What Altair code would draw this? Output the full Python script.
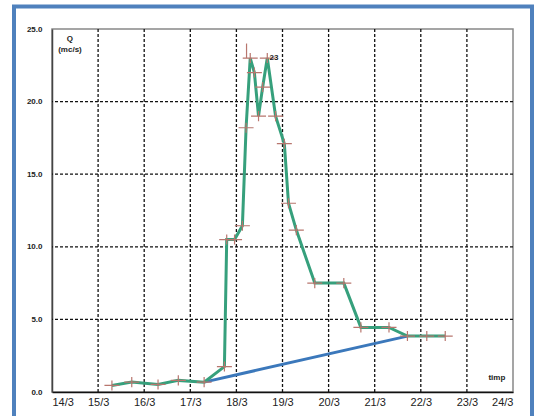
import altair as alt
import pandas as pd

# measured discharge (day of March, Q in mc/s)
day = [15.30, 15.73, 16.30, 16.74, 17.30, 17.74, 17.79, 17.96, 18.13, 18.21,
       18.30, 18.39, 18.48, 18.57, 18.67, 18.85, 19.04, 19.13, 19.30, 19.70,
       20.33, 20.70, 21.31, 21.71, 22.13, 22.53]
q = [0.45, 0.68, 0.52, 0.80, 0.68, 1.75, 10.5, 10.5, 11.45, 18.2,
     23.0, 22.0, 19.0, 21.0, 23.0, 19.0, 17.1, 13.0, 11.15, 7.5,
     7.5, 4.45, 4.45, 3.85, 3.85, 3.85]

# base flow separation line
base_day = [17.30, 21.71]
base_q = [0.68, 3.85]

# small spike above first peak
spike_day = [18.22]
spike_lo = [23.0]
spike_hi = [24.0]

x_ticks = [14, 15, 16, 17, 18, 19, 20, 21, 22, 23, 24]
y_ticks = [0, 5, 10, 15, 20, 25]
grid_days = [15, 16, 17, 18, 19, 20, 21, 22, 23]
grid_q = [5, 10, 15, 20]

label_text = ["Q", "(mc/s)", "timp"]
label_day = [14.39, 14.39, 23.65]
label_q = [24.3, 23.55, 0.95]

peak_text = ["23"]
peak_day = [18.72]
peak_q = [23.0]

FONT = "Liberation Sans"

df = pd.DataFrame({"day": day, "q": q})
base_df = pd.DataFrame({"day": base_day, "q": base_q})
spike_df = pd.DataFrame({"day": spike_day, "lo": spike_lo, "hi": spike_hi})
gx_df = pd.DataFrame({"day": grid_days})
gy_df = pd.DataFrame({"q": grid_q})
lab_df = pd.DataFrame({"day": label_day, "q": label_q, "text": label_text})
peak_df = pd.DataFrame({"day": peak_day, "q": peak_q, "text": peak_text})

xs = alt.Scale(domain=[14, 24], nice=False, zero=False)
ys = alt.Scale(domain=[0, 25], nice=False)

x_axis = alt.Axis(values=x_ticks, labelExpr="datum.value + '/3'", title=None, grid=False,
                  ticks=False, domainColor="#111", domainWidth=1.5, labelFontSize=11,
                  labelFont=FONT, labelColor="#222", labelPadding=4)
y_axis = alt.Axis(values=y_ticks, format=".1f", title=None, grid=False, ticks=False,
                  domainColor="#444", domainWidth=1.5, labelFontSize=8, labelFontWeight="bold",
                  labelFont=FONT, labelColor="#222", labelPadding=10)

gridx = alt.Chart(gx_df).mark_rule(color="#111", strokeDash=[3, 2], strokeWidth=1.3).encode(
    x=alt.X("day:Q", scale=xs, axis=x_axis))
gridy = alt.Chart(gy_df).mark_rule(color="#111", strokeDash=[3, 2], strokeWidth=1.3).encode(
    y=alt.Y("q:Q", scale=ys, axis=y_axis))

base = alt.Chart(base_df).mark_line(color="#3b78bb", strokeWidth=3).encode(
    x=alt.X("day:Q", scale=xs), y=alt.Y("q:Q", scale=ys))

green = alt.Chart(df).mark_line(color="#36a07c", strokeWidth=3).encode(
    x=alt.X("day:Q", scale=xs), y=alt.Y("q:Q", scale=ys))

crosses = alt.Chart(df).mark_point(
    shape="M-1,0H1M0,-0.67V0.67", size=225, filled=False, stroke="#b8766e", strokeWidth=1.2,
    opacity=1).encode(x=alt.X("day:Q", scale=xs), y=alt.Y("q:Q", scale=ys))

spike = alt.Chart(spike_df).mark_rule(color="#b8766e", strokeWidth=1.2).encode(
    x=alt.X("day:Q", scale=xs), y=alt.Y("lo:Q", scale=ys), y2="hi:Q")

labels = alt.Chart(lab_df).mark_text(font=FONT, fontSize=8, fontWeight="bold", color="#222",
                                     baseline="middle", align="center").encode(
    x=alt.X("day:Q", scale=xs), y=alt.Y("q:Q", scale=ys), text="text:N")

peak_label = alt.Chart(peak_df).mark_text(font=FONT, fontSize=8, fontWeight="bold", color="#222",
                                          baseline="middle", align="left").encode(
    x=alt.X("day:Q", scale=xs), y=alt.Y("q:Q", scale=ys), text="text:N")

border = alt.Chart(pd.DataFrame({"a": [0]})).mark_rect(
    filled=False, stroke="#4f81bd", strokeWidth=4).encode(
    x=alt.value(-38), x2=alt.value(480), y=alt.value(-22.5), y2=alt.value(430))

chart = alt.layer(gridx, gridy, base, green, crosses, spike, labels, peak_label, border).properties(
    width=461, height=363,
    autosize=alt.AutoSizeParams(type="none"),
    padding={"left": 52, "top": 29, "right": 21, "bottom": 24},
    background="white",
).configure_view(stroke="#888", strokeWidth=1.5)

chart.save("out.html", embed_options={"renderer": "svg", "actions": False})
